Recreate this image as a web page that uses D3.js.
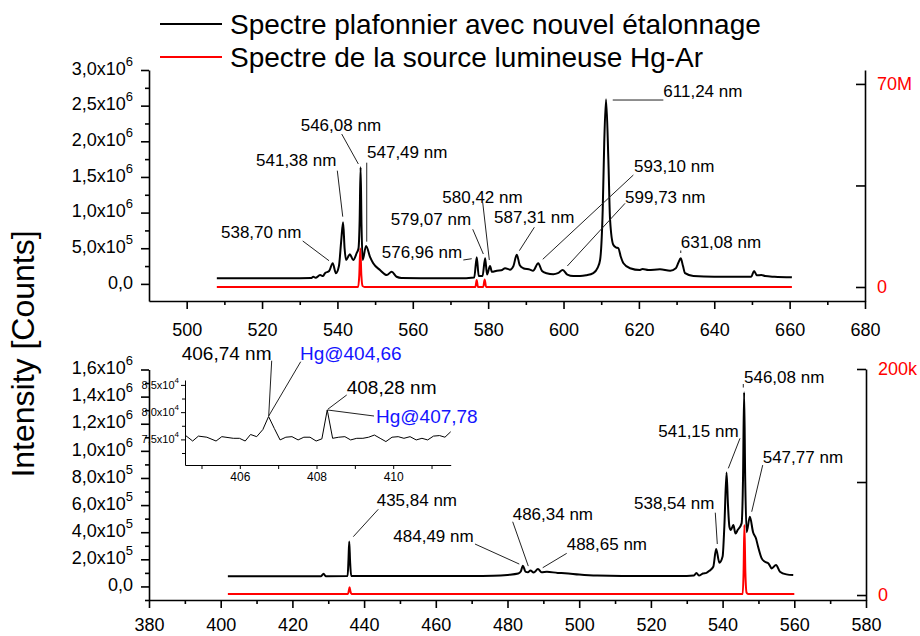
<!DOCTYPE html>
<html><head><meta charset="utf-8">
<script src="https://cdn.jsdelivr.net/npm/d3@7"></script>
<style>
body{margin:0;background:#fff}
svg{display:block}
text{font-family:"Liberation Sans",Arial,Helvetica,sans-serif}
</style>
</head><body>
<svg id="chart" width="920" height="636"></svg>
<script>
// ---------------- DATA ----------------
const legendLabels = ["Spectre plafonnier avec nouvel étalonnage", "Spectre de la source lumineuse Hg-Ar"];
const yAxisTitle = "Intensity [Counts]";

// Top panel: wavelength (nm), intensity (x1e6 counts)
const topPlafonnier = [[508,0.079],[515,0.078],[522,0.079],[530,0.08],[533,0.082],[533.6,0.1],[534.2,0.085],[535.4,0.125],[536.2,0.11],[536.7,0.15],[537.8,0.18],[538.75,0.29],[539.6,0.15],[540.4,0.25],[541.0,0.6],[541.5,0.865],[541.9,0.5],[542.3,0.335],[543.3,0.415],[544.2,0.335],[545.1,0.43],[545.6,0.5],[545.9,0.9],[546.15,1.635],[546.4,0.8],[546.7,0.335],[547.6,0.533],[548.65,0.38],[549.5,0.29],[551.3,0.195],[553.1,0.125],[554.4,0.17],[555.7,0.1],[557,0.082],[565,0.078],[572,0.078],[576.3,0.09],[576.97,0.374],[577.5,0.11],[578.5,0.11],[579.2,0.36],[579.7,0.13],[580.5,0.25],[581,0.17],[582.3,0.185],[583.5,0.19],[584.5,0.22],[585.8,0.2],[586.7,0.25],[587.6,0.41],[588.4,0.26],[589.3,0.22],[591.1,0.2],[591.9,0.185],[593.3,0.29],[594.3,0.18],[595.5,0.15],[597.3,0.135],[598.5,0.15],[599.8,0.195],[601,0.13],[602.6,0.11],[604.4,0.11],[606,0.12],[607.9,0.15],[609,0.22],[609.7,0.335],[610.4,1.04],[610.8,1.97],[611.28,2.59],[611.9,1.74],[612.35,0.9],[613.2,0.55],[614.0,0.51],[614.55,0.5],[615.2,0.38],[615.9,0.29],[617.65,0.22],[620.3,0.195],[621,0.21],[622.5,0.195],[625.6,0.205],[628.3,0.185],[629.8,0.22],[630.5,0.3],[631.1,0.36],[631.7,0.25],[632.25,0.15],[634.45,0.11],[640,0.1],[649.8,0.1],[650.56,0.18],[651.3,0.12],[652.5,0.125],[653.5,0.11],[656,0.1],[660.6,0.092]];
// Top panel Hg-Ar source: wavelength (nm), intensity (x1e6 counts, right axis)
const topHgAr = [[508,0],[545.5,0],[545.8,4],[546.08,13.3],[546.35,4],[546.7,0.3],[547.2,0],[576.6,0],[576.96,2.4],[577.3,0],[578.7,0],[579.07,2.6],[579.45,0],[660.6,0]];

// Bottom panel: wavelength (nm), intensity (x1e6 counts)
const bottomPlafonnier = [[402,0.075],[410,0.076],[418,0.075],[428,0.076],[428.7,0.094],[429.3,0.076],[435.4,0.077],[435.65,0.2],[435.85,0.332],[436.1,0.18],[436.4,0.077],[450,0.077],[470,0.077],[476,0.079],[480,0.085],[483,0.095],[483.7,0.11],[484.3,0.153],[485,0.11],[485.7,0.105],[486.4,0.118],[487.3,0.102],[488.5,0.128],[489.5,0.105],[491,0.108],[494,0.1],[496,0.098],[500,0.088],[505,0.08],[512,0.077],[530,0.077],[532,0.08],[532.7,0.1],[533.4,0.08],[534.5,0.095],[535.5,0.1],[536.3,0.115],[537.4,0.145],[538.2,0.276],[539.1,0.175],[540,0.22],[540.5,0.45],[541.1,0.841],[541.5,0.6],[541.9,0.44],[542.3,0.416],[543.0,0.453],[543.6,0.39],[544.2,0.416],[545.3,0.465],[545.7,0.8],[546.0,1.432],[546.3,0.8],[546.7,0.40],[547.6,0.514],[548.5,0.40],[549.3,0.355],[549.9,0.293],[550.9,0.207],[551.8,0.182],[552.8,0.17],[553.7,0.133],[554.9,0.158],[556.0,0.108],[557.8,0.089],[559.7,0.084]];
// Bottom panel Hg-Ar source: wavelength (nm), intensity (x1e3 counts, right axis)
const bottomHgAr = [[402,0.9],[435.5,0.9],[435.75,4],[435.95,6.8],[436.2,3],[436.5,0.9],[545.6,0.9],[545.85,20],[546.08,62],[546.35,20],[546.7,2],[547.1,0.9],[560,0.9]];

// Inset (zoom of bottom spectrum): wavelength (nm), counts
const insetPlafonnier = [[404.57,75800],[404.77,74700],[404.92,75600],[405.14,75400],[405.38,74700],[405.53,75500],[405.83,75200],[405.99,75200],[406.14,74700],[406.28,75900],[406.44,75500],[406.60,76800],[406.75,79200],[406.90,77000],[407.05,74900],[407.20,75400],[407.36,75500],[407.52,74900],[407.67,75400],[407.83,75400],[407.99,74700],[408.14,75100],[408.28,80400],[408.42,75200],[408.58,75400],[408.74,75500],[408.89,74900],[409.05,75200],[409.21,75200],[409.36,75400],[409.51,75800],[409.66,75200],[409.81,74600],[409.97,75400],[410.13,75500],[410.28,75200],[410.44,75500],[410.60,74900],[410.75,75200],[410.90,74900],[411.05,75600],[411.21,75700],[411.35,75400],[411.5,76400]];

// Tick values and labels
const topXTicks = [500,520,540,560,580,600,620,640,660,680];
const bottomXTicks = [380,400,420,440,460,480,500,520,540,560,580];
const topLeftTicks = [0,0.5,1.0,1.5,2.0,2.5,3.0];
const topLeftTickLabels = [["0,0",""],["5,0x10","5"],["1,0x10","6"],["1,5x10","6"],["2,0x10","6"],["2,5x10","6"],["3,0x10","6"]];
const bottomLeftTicks = [0,0.2,0.4,0.6,0.8,1.0,1.2,1.4,1.6];
const bottomLeftTickLabels = [["0,0",""],["2,0x10","5"],["4,0x10","5"],["6,0x10","5"],["8,0x10","5"],["1,0x10","6"],["1,2x10","6"],["1,4x10","6"],["1,6x10","6"]];
const topRightTicks = [0,35,70];
const topRightTickLabels = ["0","","70M"];
const bottomRightTicks = [0,100,200];
const bottomRightTickLabels = ["0","","200k"];
const insetXTicks = [406,408,410];
const insetYTicks = [75000,80000,85000];
const insetYTickLabels = [["7,5x10","4"],["8,0x10","4"],["8,5x10","4"]];

// Peak annotations: label, label anchor [nm, value], leader line [[nm,value],[nm,value]]
const topPeakLabels = ["538,70 nm","541,38 nm","546,08 nm","547,49 nm","576,96 nm","579,07 nm","580,42 nm","587,31 nm","593,10 nm","599,73 nm","611,24 nm","631,08 nm"];
const topPeakLabelPos = [[509.11,0.732],[518.40,1.738],[530.26,2.229],[547.86,1.846],[551.76,0.452],[554.15,0.906],[567.84,1.215],[581.56,0.934],[618.72,1.654],[616.33,1.223],[626.49,2.71],[631.11,0.592]];
const topPeakLeaders = [[[530.79,0.602],[537.77,0.325]],[[539.97,1.588],[541.41,0.943]],[[541.14,2.102],[545.55,1.682]],[[547.78,1.70],[547.78,0.592]],[[573.41,0.335],[575.64,0.353]],[[575.91,0.766],[578.72,0.419]],[[578.56,1.139],[580.31,0.335]],[[592.26,0.794],[588.28,0.466]],[[618.53,1.527],[594.49,0.345]],[[616.33,1.13],[601.01,0.251]],[[613.06,2.579],[626.49,2.579]],[[631.11,0.468],[631.11,0.433]]];

const bottomPeakLabels = ["546,08 nm","541,15 nm","547,77 nm","538,54 nm","486,34 nm","488,65 nm","484,49 nm","435,84 nm"];
const bottomPeakLabelPos = [[545.97,1.546],[522.06,1.148],[551.19,0.952],[515.29,0.613],[481.45,0.534],[496.51,0.313],[448.15,0.372],[443.51,0.642]];
const bottomPeakLeaders = [[[545.77,1.493],[545.77,1.467]],[[544.85,1.092],[541.59,0.871]],[[551.19,0.895],[548.12,0.551]],[[537.96,0.544],[538.52,0.313]],[[481.45,0.477],[485.80,0.150]],[[496.51,0.244],[489.82,0.138]],[[470.93,0.313],[483.29,0.165]],[[443.96,0.569],[436.99,0.367]]];

const insetLabels = ["406,74 nm","Hg@404,66","408,28 nm","Hg@407,78"];
const insetLabelColors = ["#000","#1414ff","#000","#1414ff"];
const insetLabelPos = [[404.484,90800],[407.569,90800],[408.788,84560],[409.552,79290]];
const insetLeaders = [[[406.831,89440],[406.753,79290]],[[407.588,89260],[406.753,79290]],[[408.788,83150],[408.292,80520]],[[409.50,79290],[408.292,80390]]];

// ---------------- DRAWING ----------------
const svg = d3.select("#chart");
const RED = "#ff0000";

// Scales
const x1 = d3.scaleLinear().domain([490,680]).range([149,865]);
const yL1 = d3.scaleLinear().domain([-0.24,3.0]).range([301,70]);
const yR1 = d3.scaleLinear().domain([-4.83,74.8]).range([301,70]);
const x2 = d3.scaleLinear().domain([380,580]).range([149,866]);
const yL2 = d3.scaleLinear().domain([-0.1,1.6]).range([600,369.5]);
const yR2 = d3.scaleLinear().domain([-4.4,200]).range([600,369]);
const xi = d3.scaleLinear().domain([404.57,411.5]).range([185,450.7]);
const yi = d3.scaleLinear().domain([70300,85900]).range([465,380]);

function styleAxis(g, w) {
  g.selectAll(".domain").attr("stroke","#000").attr("stroke-width",w);
  g.selectAll(".tick line").attr("stroke","#000").attr("stroke-width",w);
}
function supLabels(g, labels, mainSize, supSize, dyMain) {
  g.selectAll(".tick text").each(function(d,i){
    const t = d3.select(this);
    t.text(null);
    const [m,e] = labels[i];
    t.append("tspan").text(m).attr("font-size", mainSize);
    if (e) t.append("tspan").text(e).attr("font-size", supSize).attr("dy", -dyMain);
  });
}
function minorBetween(ticks) {
  const out = [];
  for (let i=0;i<ticks.length-1;i++) out.push((ticks[i]+ticks[i+1])/2);
  return out;
}

function drawPanel(x, yL, yR, xTicks, leftTicks, leftLabels, rightTicks, rightLabels, xLabelPad, leftMinor) {
  const y0 = yL.range()[0];
  const xLeft = x.range()[0], xRight = x.range()[1];
  const gxm = svg.append("g").attr("transform",`translate(0,${y0})`)
    .call(d3.axisBottom(x).tickValues(minorBetween(xTicks)).tickSize(4).tickSizeOuter(0).tickFormat(""));
  styleAxis(gxm,1.6); gxm.select(".domain").remove();
  const gx = svg.append("g").attr("transform",`translate(0,${y0})`)
    .call(d3.axisBottom(x).tickValues(xTicks).tickSize(8).tickSizeOuter(0).tickPadding(xLabelPad).tickFormat(d=>d));
  styleAxis(gx,1.6);
  gx.selectAll(".tick text").attr("font-size",18).style("fill","#000");
  const glm = svg.append("g").attr("transform",`translate(${xLeft},0)`)
    .call(d3.axisLeft(yL).tickValues(leftMinor).tickSize(4).tickSizeOuter(0).tickFormat(""));
  styleAxis(glm,1.6); glm.select(".domain").remove();
  const gl = svg.append("g").attr("transform",`translate(${xLeft},0)`)
    .call(d3.axisLeft(yL).tickValues(leftTicks).tickSize(8).tickSizeOuter(0).tickPadding(8));
  styleAxis(gl,1.6);
  gl.selectAll(".tick text").style("fill","#000").attr("y",1);
  supLabels(gl, leftLabels, 18, 13, 9);
  const gr = svg.append("g").attr("transform",`translate(${xRight},0)`)
    .call(d3.axisRight(yR).tickValues(rightTicks).tickSizeInner(-9).tickSizeOuter(0).tickPadding(12).tickFormat((d,i)=>rightLabels[i]));
  styleAxis(gr,1.6);
  gr.selectAll(".tick text").attr("font-size",18).style("fill",RED);
}

drawPanel(x1, yL1, yR1, topXTicks, topLeftTicks, topLeftTickLabels, topRightTicks, topRightTickLabels, 14,
  [0.25,0.75,1.25,1.75,2.25,2.75]);
drawPanel(x2, yL2, yR2, bottomXTicks, bottomLeftTicks, bottomLeftTickLabels, bottomRightTicks, bottomRightTickLabels, 10.5,
  [-0.1,0.1,0.3,0.5,0.7,0.9,1.1,1.3,1.5]);

// Spectra
const line = (x,y) => d3.line().x(d=>x(d[0])).y(d=>y(d[1])).curve(d3.curveMonotoneX);
svg.append("path").datum(topHgAr).attr("d", line(x1,yR1)).attr("fill","none").attr("stroke",RED).attr("stroke-width",2);
svg.append("path").datum(topPlafonnier).attr("d", line(x1,yL1)).attr("fill","none").attr("stroke","#000").attr("stroke-width",2).attr("stroke-linejoin","round");
svg.append("path").datum(bottomHgAr).attr("d", line(x2,yR2)).attr("fill","none").attr("stroke",RED).attr("stroke-width",2);
svg.append("path").datum(bottomPlafonnier).attr("d", line(x2,yL2)).attr("fill","none").attr("stroke","#000").attr("stroke-width",2).attr("stroke-linejoin","round");

// Annotations
function annotate(labels, pos, leaders, x, y, size, colors) {
  labels.forEach((lab,i)=>{
    const [a,b] = leaders[i];
    svg.append("line").attr("x1",x(a[0])).attr("y1",y(a[1])).attr("x2",x(b[0])).attr("y2",y(b[1]))
      .attr("stroke","#222").attr("stroke-width",1);
    svg.append("text").attr("x",x(pos[i][0])).attr("y",y(pos[i][1])).attr("dy","0.36em")
      .attr("font-size",size).style("fill", colors ? colors[i] : "#000").text(lab);
  });
}
annotate(topPeakLabels, topPeakLabelPos, topPeakLeaders, x1, yL1, 17);
annotate(bottomPeakLabels, bottomPeakLabelPos, bottomPeakLeaders, x2, yL2, 17);

// Inset
const gix = svg.append("g").attr("transform",`translate(0,${yi.range()[0]})`)
  .call(d3.axisBottom(xi).tickValues([405,406,407,408,409,410,411]).tickSize(4).tickSizeOuter(0).tickPadding(3)
    .tickFormat(d=>insetXTicks.includes(d)?d:""));
styleAxis(gix,1);
gix.selectAll(".tick text").attr("font-size",12).style("fill","#000");
const giym = svg.append("g").attr("transform",`translate(${xi.range()[0]},0)`)
  .call(d3.axisLeft(yi).tickValues([72500,77500,82500]).tickSize(3).tickSizeOuter(0).tickFormat(""));
styleAxis(giym,1); giym.select(".domain").remove();
const giy = svg.append("g").attr("transform",`translate(${xi.range()[0]},0)`)
  .call(d3.axisLeft(yi).tickValues(insetYTicks).tickSize(4).tickSizeOuter(0).tickPadding(2));
styleAxis(giy,1);
giy.selectAll(".tick text").style("fill","#000");
supLabels(giy, insetYTickLabels, 11, 8, 6);
svg.append("path").datum(insetPlafonnier).attr("d", d3.line().x(d=>xi(d[0])).y(d=>yi(d[1])))
  .attr("fill","none").attr("stroke","#000").attr("stroke-width",1);
annotate(insetLabels, insetLabelPos, insetLeaders, xi, yi, 19, insetLabelColors);

// Legend
const legColors = ["#000", RED];
legendLabels.forEach((lab,i)=>{
  const ly = 24 + i*33;
  svg.append("line").attr("x1",160).attr("x2",222).attr("y1",ly).attr("y2",ly)
    .attr("stroke",legColors[i]).attr("stroke-width",2);
  svg.append("text").attr("x",230).attr("y",ly).attr("dy","0.36em").attr("font-size",28).style("fill","#000").text(lab);
});

// Y axis title
svg.append("text").attr("transform","translate(34,354) rotate(-90)").attr("text-anchor","middle")
  .attr("font-size",32).style("fill","#000").text(yAxisTitle);
</script>
</body></html>
